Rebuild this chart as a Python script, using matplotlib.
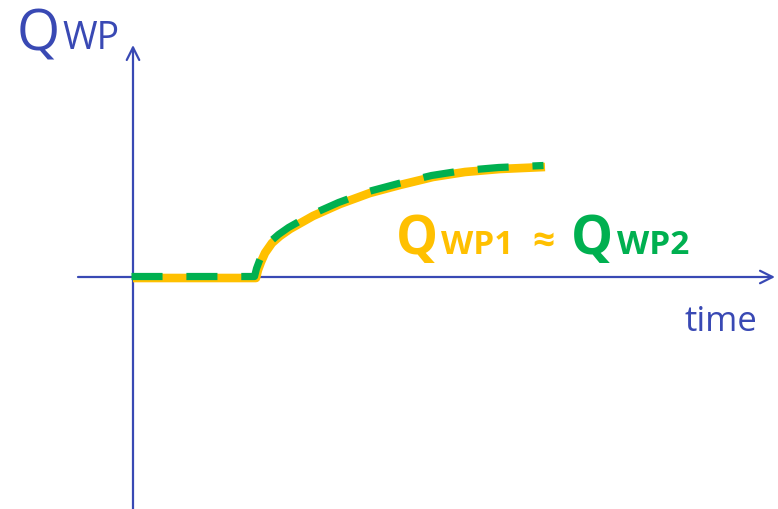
import numpy as np
import matplotlib
matplotlib.use('Agg')
import matplotlib.pyplot as plt
from matplotlib import transforms

# curve, time and Q in arbitrary units (origin at the axes crossing)
time = [0.0, 1.23, 1.25, 1.28, 1.32, 1.39, 1.47, 1.57, 1.80, 2.07, 2.37,
        2.67, 3.00, 3.32, 3.67, 4.12]
q_wp = [-0.01, -0.01, 0.07, 0.15, 0.24, 0.34, 0.41, 0.48, 0.61, 0.73, 0.84,
        0.92, 1.00, 1.05, 1.08, 1.10]

BLUE = '#3949b4'
YELLOW = '#ffc000'
GREEN = '#00b050'
FONT = 'Open Sans'


def main():

    fig = plt.figure(figsize=(7.78, 5.09), dpi=100)
    ax = fig.add_axes([0, 0, 1, 1])
    ax.set_xlim(-1.33, 6.45)
    ax.set_ylim(-2.32, 2.77)
    ax.axis('off')

    # axes as arrows
    ax.annotate('', xy=(6.42, 0), xytext=(-0.55, 0),
                arrowprops=dict(arrowstyle='->,head_length=0.9,head_width=0.45',
                                color=BLUE, lw=1.6, shrinkA=0, shrinkB=0))
    ax.annotate('', xy=(0, 2.32), xytext=(0, -2.4),
                arrowprops=dict(arrowstyle='->,head_length=0.9,head_width=0.45',
                                color=BLUE, lw=1.6, shrinkA=0, shrinkB=0))

    ax.plot(time, q_wp, color=YELLOW, lw=6.2, solid_capstyle='butt',
            solid_joinstyle='round', zorder=3)
    # green dashes sit a touch up/left of the yellow line
    shift = transforms.offset_copy(ax.transData, fig=fig, x=-1.5, y=1.5, units='dots')
    l, = ax.plot(time, q_wp, color=GREEN, lw=5.2, zorder=4, transform=shift)
    l.set_dashes((4.3, 3.3))

    # labels
    ax.text(-1.16, 2.26, 'Q', color=BLUE, fontsize=40, family=FONT, va='baseline')
    ax.text(-0.71, 2.28, 'WP', color=BLUE, fontsize=27, family=FONT, va='baseline')
    ax.text(6.24, -0.54, 'time', color=BLUE, fontsize=25, family=FONT,
            ha='right', va='baseline')

    ax.text(2.63, 0.23, 'Q', color=YELLOW, fontsize=38, family=FONT,
            fontweight='bold', va='baseline')
    ax.text(3.08, 0.23, 'WP1', color=YELLOW, fontsize=24, family=FONT,
            fontweight='bold', va='baseline')
    ax.text(3.99, 0.245, '≈', color=YELLOW, fontsize=28, family=FONT,
            fontweight='bold', va='baseline')
    ax.text(4.38, 0.23, 'Q', color=GREEN, fontsize=38, family=FONT,
            fontweight='bold', va='baseline')
    ax.text(4.84, 0.23, 'WP2', color=GREEN, fontsize=24, family=FONT,
            fontweight='bold', va='baseline')

    fig.savefig('out.png', dpi=100)


if __name__ == '__main__':
    main()
